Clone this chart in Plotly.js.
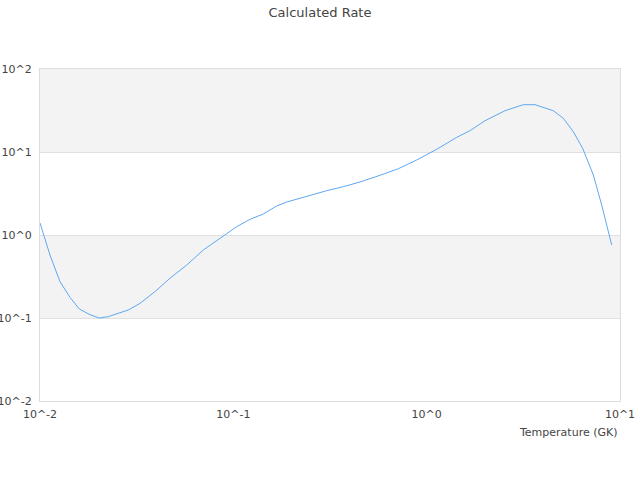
<!DOCTYPE html>
<html>
<head>
<meta charset="utf-8">
<script src="https://cdn.plot.ly/plotly-3.0.1.min.js"></script>
<style>html,body{margin:0;padding:0;background:#fff;}#chart{width:640px;height:480px;}</style>
</head>
<body>
<div id="chart"></div>
<script>
var temperature = [0.01, 0.01126, 0.01269, 0.01429, 0.01597, 0.01814, 0.02026, 0.02256, 0.0254, 0.0286,
  0.0329, 0.0393, 0.047, 0.0574, 0.0699, 0.0853, 0.1041, 0.122, 0.1429, 0.1676,
  0.1888, 0.2213, 0.2593, 0.304, 0.3705, 0.4519, 0.5736, 0.7135, 0.888, 1.127,
  1.43, 1.675, 2.003, 2.542, 3.16, 3.633, 4.52, 5.09, 5.73, 6.41,
  7.28, 8.04, 9.06];
var rate = [1.4, 0.574, 0.274, 0.1776, 0.1284, 0.1096, 0.100, 0.1037, 0.114, 0.1248,
  0.150, 0.2075, 0.301, 0.435, 0.659, 0.912, 1.259, 1.546, 1.79, 2.236,
  2.498, 2.77, 3.094, 3.418, 3.82, 4.35, 5.24, 6.29, 8.01, 10.78,
  15.0, 18.06, 23.8, 31.45, 37.15, 37.15, 31.45, 25.5, 17.6, 11.08,
  5.28, 2.30, 0.758];
var xTickVals = [0.01, 0.1, 1, 10];
var xTickText = ['10^-2', '10^-1', '10^0', '10^1'];
var yTickVals = [0.01, 0.1, 1, 10, 100];
var yTickText = ['10^-2', '10^-1', '10^0', '10^1', '10^2'];
var bandRanges = [[0.1, 1], [10, 100]];

var shapes = bandRanges.map(function (b) {
  return {type: 'rect', xref: 'paper', yref: 'y', x0: 0, x1: 1, y0: b[0], y1: b[1],
    fillcolor: '#f3f3f3', line: {width: 0}, layer: 'below'};
});

var font = {family: 'DejaVu Sans, sans-serif', size: 11, color: '#444'};

Plotly.newPlot('chart', [{
  x: temperature, y: rate, type: 'scatter', mode: 'lines',
  line: {color: '#5fa8f2', width: 1}, hoverinfo: 'none'
}], {
  width: 640, height: 480,
  margin: {l: 40, r: 20, t: 69, b: 79},
  paper_bgcolor: '#fff', plot_bgcolor: '#fff',
  font: font,
  showlegend: false,
  title: {text: 'Calculated Rate', font: {family: 'DejaVu Sans, sans-serif', size: 13, color: '#444'}, x: 0.5, xanchor: 'center', y: 0.975, yanchor: 'middle'},
  xaxis: {type: 'log', range: [-2, 1], tickvals: xTickVals, ticktext: xTickText,
    showgrid: false, zeroline: false, showline: true, linecolor: '#ddd', linewidth: 1, mirror: true,
    ticks: '', tickfont: font, ticklabelstandoff: 3},
  yaxis: {type: 'log', range: [-2, 2], tickvals: yTickVals, ticktext: yTickText,
    showgrid: true, gridcolor: '#e0e0e0', gridwidth: 1, zeroline: false, showline: true, linecolor: '#ddd', linewidth: 1, mirror: true,
    ticks: '', tickfont: font, ticklabelstandoff: 5},
  shapes: shapes,
  annotations: [{text: 'Temperature (GK)', xref: 'paper', yref: 'paper', x: 1, y: 0,
    xanchor: 'right', yanchor: 'top', yshift: -23, showarrow: false, font: font}]
}, {staticPlot: true});
</script>
</body>
</html>
